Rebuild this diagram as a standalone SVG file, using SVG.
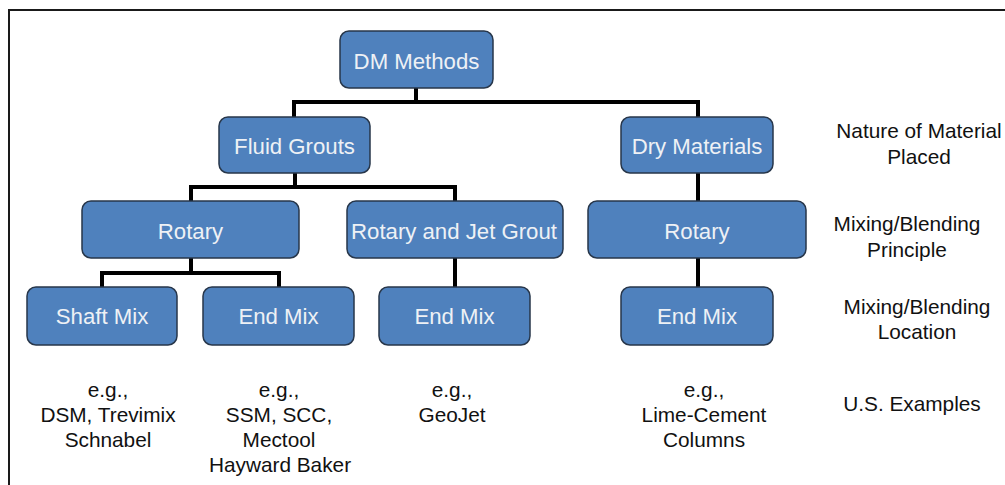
<svg xmlns="http://www.w3.org/2000/svg" width="1005" height="485" viewBox="0 0 1005 485">
<style>
.node rect{fill:#4F81BD;stroke:#27364a;stroke-width:1.5}
.node text{fill:#EEF1F5;font-family:"Liberation Sans",Arial,sans-serif;font-size:22.2px;text-anchor:middle}
.lbl{fill:#111;font-family:"Liberation Sans",Arial,sans-serif;font-size:20.8px;text-anchor:middle}
.conn{fill:none;stroke:#000;stroke-width:4;stroke-linejoin:miter;stroke-linecap:square}
</style>
<rect width="1005" height="485" fill="#fff"/>
<path d="M9,486 V10 H1006" fill="none" stroke="#1a1a1a" stroke-width="2"/>
<g id="connectors">
<path class="conn" d="M416,88 V102 M294,117 V102 H698 V117"/>
<path class="conn" d="M295,173 V187 M191,201 V187 H455 V201"/>
<path class="conn" d="M698,173 V201"/>
<path class="conn" d="M191,258 V273 M102,287 V273 H279 V287"/>
<path class="conn" d="M455,258 V287"/>
<path class="conn" d="M698,258 V287"/>
</g>
<g id="dm-methods" class="node"><rect x="340" y="31" width="153" height="57" rx="9"/><text x="416.5" y="68.5">DM Methods</text></g>
<g id="fluid-grouts" class="node"><rect x="219" y="117" width="151" height="56" rx="9"/><text x="294.5" y="153.5">Fluid Grouts</text></g>
<g id="dry-materials" class="node"><rect x="621" y="117" width="152" height="56" rx="9"/><text x="697" y="153.5">Dry Materials</text></g>
<g id="rotary-1" class="node"><rect x="82" y="201" width="217" height="57" rx="9"/><text x="190.5" y="238.5">Rotary</text></g>
<g id="rotary-jet" class="node"><rect x="347" y="201" width="216" height="57" rx="9"/><text x="454" y="238.5">Rotary and Jet Grout</text></g>
<g id="rotary-2" class="node"><rect x="588" y="201" width="218" height="57" rx="9"/><text x="697" y="238.5">Rotary</text></g>
<g id="shaft-mix" class="node"><rect x="27" y="287" width="150" height="58" rx="9"/><text x="102" y="324">Shaft Mix</text></g>
<g id="end-mix-1" class="node"><rect x="203" y="287" width="151" height="58" rx="9"/><text x="278.5" y="324">End Mix</text></g>
<g id="end-mix-2" class="node"><rect x="379" y="287" width="151" height="58" rx="9"/><text x="454.5" y="324">End Mix</text></g>
<g id="end-mix-3" class="node"><rect x="621" y="287" width="152" height="58" rx="9"/><text x="697" y="324">End Mix</text></g>
<g id="labels">
<text class="lbl" x="919" y="138">Nature of Material</text>
<text class="lbl" x="919" y="164">Placed</text>
<text class="lbl" x="907" y="231">Mixing/Blending</text>
<text class="lbl" x="907" y="257">Principle</text>
<text class="lbl" x="917" y="314">Mixing/Blending</text>
<text class="lbl" x="917" y="339">Location</text>
<text class="lbl" x="912" y="411">U.S. Examples</text>
<text class="lbl" x="108" y="397">e.g.,</text>
<text class="lbl" x="108" y="422">DSM, Trevimix</text>
<text class="lbl" x="108" y="447">Schnabel</text>
<text class="lbl" x="279" y="397">e.g.,</text>
<text class="lbl" x="279" y="422">SSM, SCC,</text>
<text class="lbl" x="279" y="447">Mectool</text>
<text class="lbl" x="280" y="472">Hayward Baker</text>
<text class="lbl" x="452" y="397">e.g.,</text>
<text class="lbl" x="452" y="422">GeoJet</text>
<text class="lbl" x="704" y="397">e.g.,</text>
<text class="lbl" x="704" y="422">Lime-Cement</text>
<text class="lbl" x="704" y="447">Columns</text>
</g>
</svg>
